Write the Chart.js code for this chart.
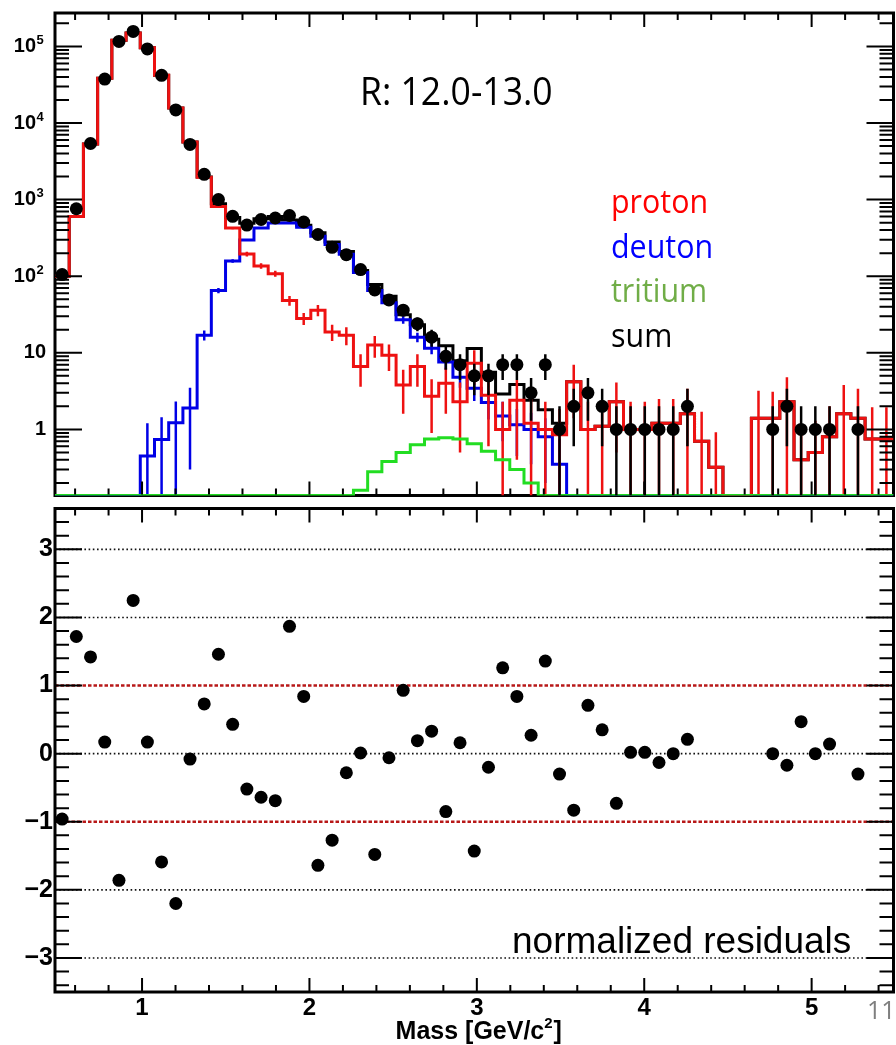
<!DOCTYPE html>
<html>
<head>
<meta charset="utf-8">
<title>Mass fit R: 12.0-13.0</title>
<script src="https://cdn.jsdelivr.net/npm/chart.js@4.4.1/dist/chart.umd.min.js"></script>
<style>
  html, body { margin: 0; padding: 0; background: #fff; overflow: hidden; }
  body { position: relative; width: 896px; height: 1045px; }
  canvas { position: absolute; left: 0; }
  #massTop { top: 0; }
  #massBot { top: 502px; }
  .note { position: absolute; white-space: nowrap; line-height: 1; transform-origin: 0 0; }
  .slide { font-family: "Open Sans", sans-serif; }
</style>
</head>
<body>
<canvas id="massTop" width="900" height="502"></canvas>
<canvas id="massBot" width="900" height="543"></canvas>

<div class="note slide" style="left:360px; top:71px; font-size:38px; transform:scaleX(0.936);">R: 12.0-13.0</div>
<div class="note slide" style="left:611px; top:185px; font-size:32px; color:#ff0000; transform:scaleX(0.95);">proton</div>
<div class="note slide" style="left:611px; top:230px; font-size:32px; color:#0000ff; transform:scaleX(0.95);">deuton</div>
<div class="note slide" style="left:611px; top:274px; font-size:32px; color:#70ad47; transform:scaleX(0.95);">tritium</div>
<div class="note slide" style="left:611px; top:319px; font-size:32px; color:#000; transform:scaleX(0.95);">sum</div>
<div class="note" style="left:512px; top:922px; font-size:37px; font-family:'Liberation Sans', Arial, sans-serif;">normalized residuals</div>
<div class="note slide" style="left:867px; top:997px; font-size:25px; color:#7f7f7f;">11</div>

<script>
// binning of the mass histograms
const X_MIN = 0.48;
const BIN_W = 0.0849;
const N_BINS = 59;
const X_MAX = X_MIN + N_BINS * BIN_W;

// top pad (log) and bottom pad (linear) ranges
const Y_MIN_TOP = 0.137;
const Y_MAX_TOP = 2.73e5;
const Y_MIN_RES = -3.5;
const Y_MAX_RES = 3.6;

// measured counts per bin
const dataCounts = [
  105, 760, 5400, 37500, 116000, 157000, 92700, 41900, 14800, 5250,
  2140, 1000, 605, 465, 550, 575, 620, 510, 350, 238,
  191, 122, 66, 49, 36, 24, 16, 9, 7, 5,
  5, 7, 7, 3, 7, 1, 2, 3, 2, 1,
  1, 1, 1, 1, 2, 0, 0, 0, 0, 0,
  1, 2, 1, 1, 1, 0, 1, 0, 0
];
const dataErr = [
  10, 28, 73, 194, 341, 396, 304, 205, 122, 72,
  46, 32, 25, 22, 23, 24, 25, 23, 19, 15,
  14, 11, 8.1, 7, 6, 4.9, 4, 3, 2.6, 2.2,
  2.2, 2.6, 2.6, 1.7, 2.6, 1, 1.4, 1.7, 1.4, 1,
  1, 1, 1, 1, 1.4, 0, 0, 0, 0, 0,
  1, 1.4, 1, 1, 1, 0, 1, 0, 0
];

// fitted templates
const proton = [
  100, 600, 5300, 38500, 120000, 150000, 96000, 42000, 15700, 5650,
  1960, 815, 425, 195, 136, 108, 48, 28, 36, 18.7,
  17, 6.6, 12.6, 9.3, 3.8, 6.6, 2.7, 4.0, 2.3, 7.3,
  2.8, 1.0, 2.4, 1.2, 1.0, 0.85, 4.2, 1.0, 1.1, 2.3,
  1.0, 1.0, 1.2, 1.2, 1.6, 0.7, 0.32, 0, 0, 1.4,
  1.4, 2.3, 0.4, 0.5, 0.8, 1.6, 1.4, 0.75, 0.75
];
const protonErr = [
  3, 12, 40, 150, 300, 350, 280, 180, 100, 60,
  35, 22, 15, 14, 11, 10, 7, 5, 6, 4.5,
  4.5, 3, 4, 3.5, 2.2, 3, 1.8, 2.4, 1.8, 3.5,
  2.2, 1.3, 2.0, 1.3, 1.3, 1.0, 2.8, 1.3, 1.3, 1.8,
  1.3, 1.3, 1.3, 1.3, 1.8, 1.0, 0.6, 0, 0, 1.8,
  1.7, 2.5, 0.7, 0.8, 1.2, 2.2, 2.0, 1.2, 1.2
];
const deuton = [
  0, 0, 0, 0, 0, 0, 0.45, 0.74, 1.22, 1.9,
  17, 65, 158, 297, 427, 495, 495, 436, 332, 260,
  193, 112, 65, 45, 27, 16, 11.5, 7.6, 4.8, 3.45,
  2.25, 1.5, 1.15, 1.0, 0.8, 0.35, 0, 0, 0, 0,
  0, 0, 0, 0, 0, 0, 0, 0, 0, 0,
  0, 0, 0, 0, 0, 0, 0, 0, 0
];
const deutonErr = [
  0, 0, 0, 0, 0, 0, 0.75, 0.7, 1.1, 1.6,
  2.5, 5, 8, 10, 12, 13, 13, 12, 10, 9,
  8, 6, 4.5, 3.8, 3, 2.3, 1.9, 1.6, 1.3, 1.1,
  0.9, 0.8, 0.7, 0.65, 0.6, 0.4, 0, 0, 0, 0,
  0, 0, 0, 0, 0, 0, 0, 0, 0, 0,
  0, 0, 0, 0, 0, 0, 0, 0, 0
];
const tritium = [
  0, 0, 0, 0, 0, 0, 0, 0, 0, 0,
  0, 0, 0, 0, 0, 0, 0, 0, 0, 0,
  0, 0.16, 0.28, 0.38, 0.5, 0.63, 0.75, 0.78, 0.75, 0.65,
  0.52, 0.4, 0.3, 0.2, 0, 0, 0, 0, 0, 0,
  0, 0, 0, 0, 0, 0, 0, 0, 0, 0,
  0, 0, 0, 0, 0, 0, 0, 0, 0
];
const sumFit = [
  100, 600, 5300, 38500, 120000, 150000, 96000, 42001, 15701, 5652,
  1977, 880, 583, 492, 563, 603, 543, 464, 368, 278.7,
  210, 118.8, 77.9, 54.7, 31.3, 23.2, 15.0, 12.4, 7.85, 11.4,
  5.57, 2.9, 3.85, 2.4, 1.8, 1.2, 4.2, 1.0, 1.1, 2.3,
  1.0, 1.0, 1.2, 1.2, 1.6, 0.7, 0.32, 0, 0, 1.4,
  1.4, 2.3, 0.4, 0.5, 0.8, 1.6, 1.4, 0.75, 0.75
];

// normalized residuals (null = empty bin)
const residuals = [
  -0.96, 1.72, 1.42, 0.17, -1.86, 2.25, 0.17, -1.59, -2.2, -0.08,
  0.73, 1.46, 0.43, -0.52, -0.64, -0.69, 1.87, 0.84, -1.64, -1.27,
  -0.28, 0.01, -1.48, -0.06, 0.93, 0.19, 0.33, -0.85, 0.16, -1.43,
  -0.20, 1.26, 0.84, 0.27, 1.36, -0.30, -0.83, 0.71, 0.35, -0.73,
  0.02, 0.02, -0.13, 0.0, 0.21, null, null, null, null, null,
  0.0, -0.17, 0.47, 0.0, 0.14, null, -0.30, null, null
];

// axis ticks and labels
const massTickValues = [1, 2, 3, 4, 5];
const massTickLabels = ['1', '2', '3', '4', '5'];
const logTickValues = [1, 10, 100, 1000, 10000, 100000];
const logTickBase = ['1', '10', '10', '10', '10', '10'];
const logTickExp = ['', '', '2', '3', '4', '5'];
const resTickValues = [-3, -2, -1, 0, 1, 2, 3];
const resTickLabels = ['\u22123', '\u22122', '\u22121', '0', '1', '2', '3'];
const resGridDotted = [-3, -2, 0, 2, 3];
const resGridDashed = [-1, 1];

const binEdges = Array.from({ length: N_BINS + 1 }, (_, k) => X_MIN + k * BIN_W);
const binCenters = Array.from({ length: N_BINS }, (_, k) => X_MIN + (k + 0.5) * BIN_W);

const massMinor = [];
for (let i = 3; i <= 27; i++) if (i % 5) massMinor.push(i * 0.2);
const logMinor = [];
for (let d = -1; d <= 5; d++) for (let m = 2; m <= 9; m++) {
  const v = m * Math.pow(10, d);
  if (v > Y_MIN_TOP && v < Y_MAX_TOP) logMinor.push(v);
}
const resMinor = [];
for (let i = -17; i <= 17; i++) if (i % 5) resMinor.push(i * 0.2);

// histogram as steps, empty bins sit on the lower frame edge
function stepData(values) {
  const pts = values.map((v, k) => ({ x: binEdges[k], y: Math.max(v, Y_MIN_TOP) }));
  pts.push({ x: binEdges[N_BINS], y: Math.max(values[N_BINS - 1], Y_MIN_TOP) });
  return pts;
}

function errData(values, errs) {
  const pts = [];
  values.forEach((v, k) => {
    if (!(v > 0) || !(errs[k] > 0)) return;
    pts.push({ x: binCenters[k], y: Math.max(v - errs[k], Y_MIN_TOP) });
    pts.push({ x: binCenters[k], y: v + errs[k] });
    pts.push({ x: binCenters[k], y: null });
  });
  return pts;
}

function hist(values, color, width) {
  return { data: stepData(values), stepped: 'before', borderColor: color, borderWidth: width,
    pointRadius: 0, fill: false, tension: 0, spanGaps: false };
}
function errLines(values, errs, color, width) {
  return { data: errData(values, errs), borderColor: color, borderWidth: width,
    pointRadius: 0, fill: false, tension: 0, spanGaps: false };
}

function drawBox(chart) {
  const { ctx, chartArea: a } = chart;
  ctx.save();
  ctx.strokeStyle = '#000';
  ctx.lineWidth = 3;
  ctx.strokeRect(a.left, a.top, a.right - a.left, a.bottom - a.top);
  ctx.restore();
}

function makeRootAxes(spec) {
  return {
    id: 'rootAxes',
    beforeDatasetsDraw(chart) {
      if (spec.grid) spec.grid(chart);
      if (spec.frameFirst) drawBox(chart);
    },
    afterDatasetsDraw(chart) {
      const { ctx, chartArea: a, scales } = chart;
      const xs = scales.x, ys = scales.y;
      ctx.save();
      ctx.strokeStyle = '#000';
      ctx.lineWidth = 2;
      ctx.beginPath();
      const xt = (vals, len) => vals.forEach(v => {
        const p = xs.getPixelForValue(v);
        ctx.moveTo(p, a.top); ctx.lineTo(p, a.top + len);
        ctx.moveTo(p, a.bottom - 1); ctx.lineTo(p, a.bottom - len);
      });
      const yt = (vals, len) => vals.forEach(v => {
        const p = ys.getPixelForValue(v);
        ctx.moveTo(a.left, p); ctx.lineTo(a.left + len, p);
        ctx.moveTo(a.right, p); ctx.lineTo(a.right - len, p);
      });
      xt(massTickValues, 14); xt(massMinor, 7);
      yt(spec.yMajor, 27); yt(spec.yMinor, 14);
      ctx.stroke();
      ctx.restore();
      if (!spec.frameFirst) drawBox(chart);
      ctx.save();
      ctx.fillStyle = '#000';
      spec.labels(chart);
      ctx.restore();
    }
  };
}

function drawTopLabels(chart) {
  const { ctx, scales: { y } } = chart;
  ctx.textBaseline = 'middle';
  logTickValues.forEach((v, i) => {
    const p = y.getPixelForValue(v);
    if (logTickExp[i]) {
      ctx.font = 'bold 20px "Liberation Sans", Arial, sans-serif';
      ctx.textAlign = 'right';
      ctx.fillText(logTickBase[i], 36, p);
      ctx.font = 'bold 13px "Liberation Sans", Arial, sans-serif';
      ctx.textAlign = 'left';
      ctx.fillText(logTickExp[i], 36.5, p - 6);
    } else {
      ctx.font = 'bold 20px "Liberation Sans", Arial, sans-serif';
      ctx.textAlign = 'right';
      ctx.fillText(logTickBase[i], 46, p);
    }
  });
}

function drawBottomLabels(chart) {
  const { ctx, scales: { x, y } } = chart;
  ctx.textBaseline = 'middle';
  ctx.font = 'bold 25px "Liberation Sans", Arial, sans-serif';
  ctx.textAlign = 'right';
  resTickValues.forEach((v, i) => ctx.fillText(resTickLabels[i], 53, y.getPixelForValue(v)));
  ctx.font = 'bold 24px "Liberation Sans", Arial, sans-serif';
  ctx.textAlign = 'center';
  massTickValues.forEach((v, i) => ctx.fillText(massTickLabels[i], x.getPixelForValue(v), 506));
  // axis title with superscript
  const big = 'bold 25px "Liberation Sans", Arial, sans-serif';
  const small = 'bold 15px "Liberation Sans", Arial, sans-serif';
  ctx.textBaseline = 'alphabetic';
  ctx.textAlign = 'left';
  ctx.font = big;
  const w1 = ctx.measureText('Mass [GeV/c').width;
  const w3 = ctx.measureText(']').width;
  ctx.font = small;
  const w2 = ctx.measureText('2').width;
  let tx = (chart.chartArea.left + chart.chartArea.right) / 2 + 4 - (w1 + w2 + w3) / 2;
  ctx.font = big;
  ctx.fillText('Mass [GeV/c', tx, 537);
  ctx.font = small;
  ctx.fillText('2', tx + w1, 526);
  ctx.font = big;
  ctx.fillText(']', tx + w1 + w2 + 1, 537);
}

function drawResGrid(chart) {
  const { ctx, chartArea: a, scales: { y } } = chart;
  ctx.save();
  ctx.lineWidth = 1.6;
  ctx.strokeStyle = '#111';
  ctx.setLineDash([1.6, 2.6]);
  ctx.beginPath();
  resGridDotted.forEach(v => {
    const p = y.getPixelForValue(v);
    ctx.moveTo(a.left, p); ctx.lineTo(a.right, p);
  });
  ctx.stroke();
  ctx.lineWidth = 2.5;
  ctx.strokeStyle = '#b81818';
  ctx.setLineDash([3.5, 2]);
  ctx.beginPath();
  resGridDashed.forEach(v => {
    const p = y.getPixelForValue(v);
    ctx.moveTo(a.left, p); ctx.lineTo(a.right, p);
  });
  ctx.stroke();
  ctx.restore();
}

const commonOpts = {
  responsive: false,
  animation: false,
  devicePixelRatio: 1,
  events: [],
  plugins: { legend: { display: false }, tooltip: { enabled: false } }
};

const RED = '#ee1111', BLUE = '#0000e6', GREEN = '#22dd22';

const dataPoints = dataCounts.map((v, k) => ({ x: binCenters[k], y: v > 0 ? v : null }));

new Chart(document.getElementById('massTop'), {
  type: 'line',
  data: {
    datasets: [
      { data: dataPoints, showLine: false, pointRadius: 6.5, pointBackgroundColor: '#000',
        pointBorderWidth: 0, borderColor: '#000' },
      errLines(dataCounts, dataErr, '#000', 2.5),
      hist(tritium, GREEN, 3),
      hist(proton, RED, 3),
      errLines(proton, protonErr, RED, 2.5),
      hist(deuton, BLUE, 3),
      errLines(deuton, deutonErr, BLUE, 2.5),
      hist(sumFit, '#000', 3)
    ]
  },
  options: Object.assign({}, commonOpts, {
    layout: { padding: { left: 55, right: 3, top: 13, bottom: 1 } },
    scales: {
      x: { type: 'linear', min: X_MIN, max: X_MAX, display: false },
      y: { type: 'logarithmic', min: Y_MIN_TOP, max: Y_MAX_TOP, display: false }
    }
  }),
  plugins: [makeRootAxes({ yMajor: logTickValues, yMinor: logMinor, labels: drawTopLabels, frameFirst: true })]
});

new Chart(document.getElementById('massBot'), {
  type: 'line',
  data: {
    datasets: [
      { data: residuals.map((v, k) => ({ x: binCenters[k], y: v })), showLine: false,
        pointRadius: 6.5, pointBackgroundColor: '#000', pointBorderWidth: 0, borderColor: '#000' }
    ]
  },
  options: Object.assign({}, commonOpts, {
    layout: { padding: { left: 55, right: 3, top: 1, bottom: 53 } },
    scales: {
      x: { type: 'linear', min: X_MIN, max: X_MAX, display: false },
      y: { type: 'linear', min: Y_MIN_RES, max: Y_MAX_RES, display: false }
    }
  }),
  plugins: [makeRootAxes({ yMajor: resTickValues, yMinor: resMinor, labels: drawBottomLabels, grid: drawResGrid })]
});
</script>
</body>
</html>
